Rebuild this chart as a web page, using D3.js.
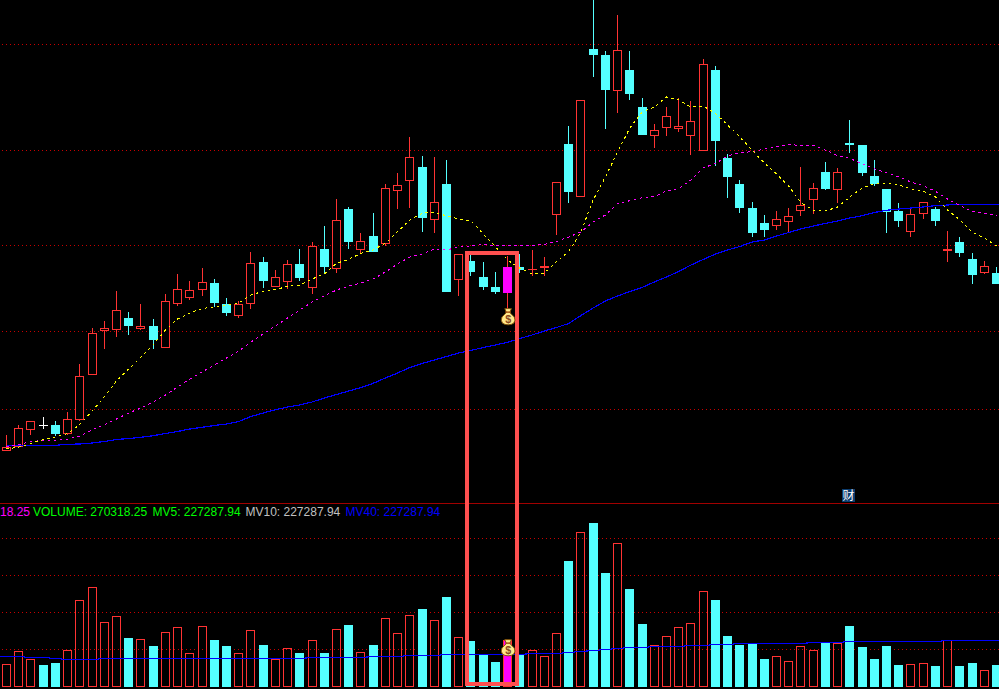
<!DOCTYPE html>
<html>
<head>
<meta charset="utf-8">
<script src="https://cdn.jsdelivr.net/npm/d3@7/dist/d3.min.js"></script>
<style>
html,body{margin:0;padding:0;background:#000;overflow:hidden}
svg{display:block}
text{font-family:"Liberation Sans",Arial,sans-serif}
</style>
</head>
<body>
<div id="chart"></div>
<script>
// Values. Price arrays are read as depth below the panel top (smaller = higher price).
const kinds = ("rrrwcrrrrr"+"crcrrrrccr"+"rcrrcrcrcr"+"crrrcrcrcc"+"cmcrrrcrcc"+"rccrrrrrcc"+"cccrrrrcrc"+"ccccrrcrcc"+"rc").split("");
const volKinds = ("rrrccrrrrr"+"crcrrrrccr"+"rcrrcrcrcr"+"crrrcrcrcc"+"cmcrrrcrcc"+"rccrrrrrcc"+"cccrrrrcrc"+"ccccrrcrcc"+"rc").split("");
const bodyTop = [447,428,421,425,425,419,376,333,328,310, 318,326,326,301,289,290,282,283,304,304, 263,262,277,264,264,246,249,220,209,241, 236,188,185,157,167,202,184,254,261,277, 287,267,267,269,266,182,144,100,49,55, 50,70,107,130,116,126,121,64,70,158, 184,208,223,219,216,205,188,172,172,143, 145,176,189,211,214,202,209,249,242,259, 266,273];
const bodyBottom = [451,447,430,425,434,434,420,375,331,330, 326,329,340,348,304,298,290,303,313,316, 304,281,287,282,278,288,267,269,242,250, 252,244,191,181,218,220,292,280,272,287, 292,293,270,269,268,215,192,197,55,90, 91,94,135,136,128,129,136,151,141,177, 208,233,230,226,222,211,200,189,190,145, 173,184,212,221,232,214,221,251,253,275, 273,284];
const wickTop = [435,425,421,417,421,412,364,328,321,291, 312,304,319,294,274,281,268,279,298,301, 252,257,270,260,249,242,226,199,207,233, 213,184,173,137,156,157,160,254,255,262, 272,256,254,250,257,182,126,100,0,51, 15,51,98,124,107,98,101,59,66,154, 180,202,215,211,208,167,183,162,168,120, 145,160,189,203,208,202,207,231,237,253, 261,267];
const wickBottom = [451,448,435,429,436,435,421,375,349,337, 335,330,349,348,306,300,296,307,316,318, 309,288,287,289,281,294,274,273,249,253, 252,246,209,208,232,233,292,296,276,290, 294,310,273,276,276,235,203,197,77,129, 113,100,135,148,136,132,155,151,166,198, 213,237,237,230,233,216,214,190,203,153, 176,186,233,227,237,219,226,262,257,284, 274,284];
const ma5 = [449,447,443.5,439.5,437,433.5,424.5,411,397,381, 369,357,345,330,319,313,308.5,307,305.5,303, 295,291.3,289.7,286.3,285.3,279,274,263.3,259.3,253.3, 250,243.3,231.7,220,213.3,212,216,219,220.7,234, 246.7,260,268.3,274,273.3,261.7,251.7,231.7,200,177, 152,128,112,107,97,100,107,106,113.3,125, 137,150,163,174,186,203,210,211,207,197, 188,184,183,185,189,191,197,210,220,232, 238,246];
const ma10 = [447,444.5,441.5,440.5,440.3,439.3,436,430,424.7,419, 413,408,402,395,387,379,372,365,358,351, 342,334,326,318,310,302,296,290,286,283, 279,272,264,257,254,249,250,247,246,244.5, 245.5,245.5,245.3,245.3,244.5,241.5,237,232,222,215, 203.5,200.7,197.7,196.7,191,188.5,180,168,163.5,156, 152.7,151.7,149,147,144.7,145.3,145.3,150,155.7,158.3, 164,168.7,172.7,177,182,185.7,191.3,199,205.7,211.3, 213,215.7];
const ma40 = [445.3,445.3,445.3,445.3,445.3,444.3,444,443,441.5,439.5, 438.5,437.3,435.7,433.5,431.5,429,427.3,425.5,424,421.5, 416.5,413,409.7,407,405,402,398,394.5,391,387.5, 383.3,378,373,367.5,363.5,360,356.5,353,350.5,347.5, 345,342.3,338.5,335,331,327.5,323.5,315.5,308,301, 296,291.5,287.5,282,277,271.5,265,259.5,254,250, 246.5,242,240,236,232.5,229,226,223.5,221,218, 215.7,212.5,210.3,209,208,207,205.7,205,204.3,204.3, 204.3,204.3];
const volume = [23,36,28,22,24,37,87,100,65,71, 49,48,41,55,60,34,61,47,41,34, 57,42,28,39,34,47,34,58,62,35, 42,69,54,72,78,67,90,50,46,33, 25,47,32,37,31,54,126,155,164,114, 144,98,63,42,51,60,64,96,87,51, 42,43,28,31,26,41,37,44,44,61, 40,28,41,22,23,24,21,47,21,24, 17,22];
const mv40 = [31,31,30,30,29,28,28,28,29,29, 29,29,29,29,29,29,29,29,29,29, 29,29,29,29,29,30,30,30,30,30, 31,31,31,32,32,32,33,33,33,33, 33,33,33,34,34,34,35,36,37,38, 39,40,40,41,41,41,42,42,43,43, 44,44,44,44,44,44,45,45,45,46, 46,46,46,46,46,46,46,47,47,47, 47,47];
const priceGrid = [44,150,245,331,409];
const volGrid = [38,75,112,149];
const legend = [
  {t:"18.25", c:"#ff00ff"},
  {t:"VOLUME: 270318.25", c:"#00ff00"},
  {t:"MV5: 227287.94", c:"#00ff00"},
  {t:"MV10: 227287.94", c:"#c0c0c0"},
  {t:"MV40: 227287.94", c:"#0000ff"}
];
const legendX = [0,33,152.5,245.5,345.5];

const W=999,H=689;
const RED="#ff3333",CYAN="#54ffff",GRID="#c80000";
const colors={r:RED,c:CYAN,w:"#ffffff",m:"#ff00ff"};
const svg=d3.select("#chart").append("svg").attr("width",W).attr("height",H)
  .style("background","#000");

const x=d3.scaleLinear().domain([0,81]).range([6.5,996.5]);
const y=d3.scaleLinear().domain([0,503]).range([0,503]);
const yv=d3.scaleLinear().domain([0,185]).range([687,502]);
const px=i=>Math.floor(x(i));

// grid: exact pixel dots
const crisp=g=>g.attr("shape-rendering","crispEdges");
const grid=svg.append("g");
grid.selectAll("line.p").data(priceGrid).join("line").attr("class","p")
  .attr("x1",2).attr("x2",W).attr("y1",d=>Math.round(y(d))+.5).attr("y2",d=>Math.round(y(d))+.5)
  .attr("stroke",GRID).attr("stroke-dasharray","1,3");
grid.selectAll("line.v").data(volGrid).join("line").attr("class","v")
  .attr("x1",2).attr("x2",W).attr("y1",d=>Math.round(yv(d))+.5).attr("y2",d=>Math.round(yv(d))+.5)
  .attr("stroke",GRID).attr("stroke-dasharray","1,3");
grid.append("line").attr("x1",0).attr("x2",W).attr("y1",503.5).attr("y2",503.5).attr("stroke","#a00000");

// volume bars
const vols=svg.append("g").call(crisp);
vols.selectAll("rect").data(volume).join("rect")
  .each(function(d,i){
    const k=volKinds[i],top=Math.round(yv(d)),bot=Math.round(yv(0));
    const s=d3.select(this);
    if(k==="c"){s.attr("x",px(i)-4).attr("y",top).attr("width",9).attr("height",bot-top).attr("fill",CYAN);}
    else{s.attr("x",px(i)-3.5).attr("y",top+.5).attr("width",8).attr("height",bot-top-1)
      .attr("fill",k==="m"?"#ff00ff":"none").attr("stroke",RED);}
  });

// MV40 step line on volume, extended to both edges
const mvExt=[mv40[0],...mv40,mv40[mv40.length-1]];
svg.append("path").datum(mvExt)
  .attr("d",d3.line().x((d,i)=>x(i-1)).y(d=>Math.round(yv(d))+.5).curve(d3.curveStep))
  .attr("fill","none").attr("stroke","#0000ff").attr("stroke-width",1.2).attr("shape-rendering","crispEdges");

// candles
const candles=svg.append("g").call(crisp);
const rows=d3.range(kinds.length);
candles.selectAll("rect.wick").data(rows).join("rect").attr("class","wick")
  .attr("x",i=>px(i)).attr("width",1)
  .attr("y",i=>Math.round(y(wickTop[i])))
  .attr("height",i=>Math.max(1,Math.round(y(wickBottom[i]))-Math.round(y(wickTop[i]))))
  .attr("fill",i=>colors[kinds[i]==="m"?"r":kinds[i]]);
candles.selectAll("rect.body").data(rows).join("rect").attr("class","body")
  .each(function(i){
    const k=kinds[i],t=Math.round(y(bodyTop[i])),b=Math.round(y(bodyBottom[i]));
    const s=d3.select(this);
    if(k==="r" && b-t>1){
      s.attr("x",px(i)-3.5).attr("y",t+.5).attr("width",8).attr("height",b-t-1).attr("fill","#000").attr("stroke",RED);
    }else{
      s.attr("x",px(i)-4).attr("y",t).attr("width",9).attr("height",Math.max(1,b-t)).attr("fill",colors[k]);
    }
  });

// moving averages
const line=d3.line().x((d,i)=>x(i)).y(d=>y(d));
svg.append("path").datum(ma40).attr("d",line)
  .attr("fill","none").attr("stroke","#0000ff").attr("stroke-width",1.2).attr("shape-rendering","crispEdges");
svg.append("line").attr("x1",x(81)).attr("x2",W).attr("y1",Math.round(y(ma40[81]))+.5).attr("y2",Math.round(y(ma40[81]))+.5)
  .attr("stroke","#0000ff").attr("shape-rendering","crispEdges");
svg.append("path").datum(ma10).attr("d",line).attr("fill","none").attr("stroke","#ff00ff")
  .attr("stroke-dasharray","2.5,3.5").attr("shape-rendering","crispEdges");
svg.append("path").datum(ma5).attr("d",line).attr("fill","none").attr("stroke","#ffff00")
  .attr("stroke-dasharray","2.5,3.5").attr("shape-rendering","crispEdges");

// legend text
svg.selectAll("text.leg").data(legend).join("text").attr("class","leg")
  .attr("x",(d,i)=>legendX[i]).attr("y",516)
  .attr("font-size",12).attr("fill",d=>d.c).text(d=>d.t);

// highlight box around candles 38..42
const bx0=px(38)-3, bx1=px(42)-2;
svg.append("rect").attr("x",bx0).attr("y",253).attr("width",bx1-bx0).attr("height",430.5)
  .attr("fill","none").attr("stroke","#ff5050").attr("stroke-width",4).attr("shape-rendering","crispEdges");

// money bags
function bag(cx,cy){
  const g=svg.append("g").attr("transform",`translate(${cx},${cy}) scale(1.12)`);
  g.append("path").attr("d","M-3,-7.5 L3,-7.5 L1.5,-4 L5.5,0 Q7,3 5,5.5 Q3,7 0,7 Q-3,7 -5,5.5 Q-7,3 -5.5,0 L-1.5,-4 Z")
    .attr("fill","#ffe98a").attr("stroke","#7a4a00").attr("stroke-width",.8);
  g.append("rect").attr("x",-2.5).attr("y",-5).attr("width",5).attr("height",1.3).attr("fill","#a05010");
  g.append("text").attr("x",0).attr("y",5).attr("text-anchor","middle").attr("font-size",9.5).attr("font-weight","bold")
    .attr("fill","#8a4a20").text("$");
}
bag(x(41)+.5,317);
bag(x(41)+.5,648);

// badge
const badge=svg.append("g");
badge.append("rect").attr("x",842).attr("y",489).attr("width",13).attr("height",13).attr("fill","#0b3c6e");
badge.append("text").attr("x",848.5).attr("y",500).attr("text-anchor","middle")
  .attr("font-size",12).attr("fill","#fff").style("font-family",'"Noto Sans CJK SC"').text("财");
</script>
</body>
</html>
